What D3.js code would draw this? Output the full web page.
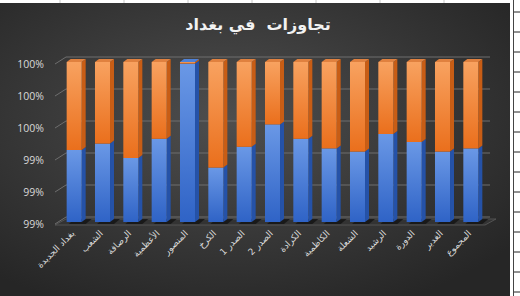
<!DOCTYPE html>
<html>
<head>
<meta charset="utf-8">
<script src="https://cdn.jsdelivr.net/npm/d3@7"></script>
<style>
  html, body { margin: 0; padding: 0; background: #ffffff; }
  #chart { width: 520px; height: 296px; }
</style>
</head>
<body>
<div id="chart"></div>
<script>
// categories (districts) and shares in percent
const districts = ['بغداد الجديدة', 'الشعب', 'الرصافة', 'الأعظمية', 'المنصور', 'الكرخ', 'الصدر 1',
    'الصدر 2', 'الكرادة', 'الكاظمية', 'الشعلة', 'الرشيد', 'الدورة', 'الغدير', 'المجموع'];
const blueShare = [99.45, 99.49, 99.40, 99.52, 99.99, 99.34, 99.47, 99.61, 99.52, 99.46, 99.44, 99.55, 99.50, 99.44, 99.46];
const orangeShare = [0.55, 0.51, 0.60, 0.48, 0.01, 0.66, 0.53, 0.39, 0.48, 0.54, 0.56, 0.45, 0.50, 0.56, 0.54];
const yTicks = [99.0, 99.2, 99.4, 99.6, 99.8, 100.0];
const chartTitle = 'تجاوزات  في بغداد';

function createChart() {
    const width = 520, height = 296;
    const svg = d3.select('#chart')
        .append('svg')
        .attr('width', width)
        .attr('height', height);

    const defs = svg.append('defs');

    const bg = defs.append('radialGradient')
        .attr('id', 'bgGrad')
        .attr('cx', '45%').attr('cy', '40%').attr('r', '70%');
    bg.append('stop').attr('offset', '0%').attr('stop-color', '#4e4e4e');
    bg.append('stop').attr('offset', '100%').attr('stop-color', '#262626');

    function vGrad(id, top, bottom) {
        const g = defs.append('linearGradient')
            .attr('id', id)
            .attr('x1', 0).attr('y1', 0).attr('x2', 0).attr('y2', 1);
        g.append('stop').attr('offset', '0%').attr('stop-color', top);
        g.append('stop').attr('offset', '100%').attr('stop-color', bottom);
    }
    vGrad('blueGrad', '#6a98e6', '#2f63c6');
    vGrad('orangeGrad', '#f8a260', '#ea6f1c');

    // excel sheet strip around chart
    svg.append('rect')
        .attr('x', 0).attr('y', 3)
        .attr('width', 510).attr('height', height - 3)
        .attr('fill', 'url(#bgGrad)');
    [60, 124, 188, 252, 316, 380, 444].forEach(x => {
        svg.append('line')
            .attr('x1', x).attr('x2', x).attr('y1', 0).attr('y2', 3)
            .attr('stroke', '#c8c8c8');
    });
    svg.append('line')
        .attr('x1', 513.5).attr('x2', 513.5).attr('y1', 0).attr('y2', height)
        .attr('stroke', '#444');
    d3.range(12, height, 20).forEach(y => {
        svg.append('line')
            .attr('x1', 514).attr('x2', 520).attr('y1', y).attr('y2', y)
            .attr('stroke', '#222');
    });

    svg.append('text')
        .attr('x', 258)
        .attr('y', 30)
        .attr('text-anchor', 'middle')
        .style('white-space', 'pre')
        .style('fill', '#f2f2f2')
        .style('font-family', 'DejaVu Sans, sans-serif')
        .style('font-size', '16px')
        .style('font-weight', 'bold')
        .text(chartTitle);

    const x = d3.scaleBand()
        .domain(districts)
        .range([60, 485])
        .paddingInner(0.47)
        .paddingOuter(0.235);

    const y = d3.scaleLinear()
        .domain([99, 100])
        .range([222, 62])
        .clamp(true);

    const depthX = 11, depthY = -6;

    // floor
    svg.append('polygon')
        .attr('points', [[55, 225], [485, 225], [485 + depthX, 225 + depthY], [55 + depthX, 225 + depthY]].join(' '))
        .attr('fill', '#333333')
        .attr('stroke', '#5c5c5c')
        .attr('stroke-width', 0.8);

    // back wall gridlines and diagonal tick lines
    const grid = svg.append('g');
    grid.selectAll('.wall-line')
        .data(yTicks)
        .enter()
        .append('line')
        .attr('class', 'wall-line')
        .attr('x1', 55 + depthX)
        .attr('x2', 490)
        .attr('y1', d => y(d) + depthY + 1)
        .attr('y2', d => y(d) + depthY + 1)
        .attr('stroke', '#6e6e6e')
        .attr('stroke-width', 1);
    grid.selectAll('.diag-line')
        .data(yTicks)
        .enter()
        .append('line')
        .attr('class', 'diag-line')
        .attr('x1', 55)
        .attr('x2', 55 + depthX)
        .attr('y1', d => y(d) + 2)
        .attr('y2', d => y(d) + depthY + 1)
        .attr('stroke', '#6e6e6e')
        .attr('stroke-width', 1);

    const yAxis = svg.append('g')
        .attr('transform', 'translate(47,2)')
        .call(d3.axisLeft(y).tickValues(yTicks).tickSize(0).tickFormat(d => Math.round(d) + '%'));
    yAxis.select('.domain').remove();
    yAxis.selectAll('text')
        .style('fill', '#d9d9d9')
        .style('font-family', 'Open Sans, sans-serif')
        .style('font-size', '10.5px');

    const bw = x.bandwidth();
    const dx = 4, dy = -3;

    // bar shadows on the floor
    svg.selectAll('.shadow')
        .data(districts)
        .enter()
        .append('polygon')
        .attr('class', 'shadow')
        .attr('points', d => {
            const x0 = x(d) + 2, x1 = x(d) + bw + dx;
            return [[x0, 224], [x1, 224], [x1 + 6, 219], [x0 + 6, 219]].join(' ');
        })
        .attr('fill', '#151515')
        .attr('opacity', 0.85);

    const stacked = districts.map((d, i) => ({
        name: d,
        segs: [
            { lo: 0, hi: blueShare[i], color: 'blue' },
            { lo: blueShare[i], hi: blueShare[i] + orangeShare[i], color: 'orange' }
        ]
    }));

    const sideColor = { blue: '#2552a8', orange: '#c85d15' };
    const topColor = { blue: '#4f82d8', orange: '#e0813f' };

    const bars = svg.selectAll('.bar')
        .data(stacked)
        .enter()
        .append('g')
        .attr('class', 'bar');

    bars.each(function (d) {
        const g = d3.select(this);
        const x0 = x(d.name);
        d.segs.forEach(s => {
            const yTop = y(s.hi), yBot = y(s.lo);
            if (yBot - yTop <= 0) return;
            // side face
            g.append('polygon')
                .attr('points', [[x0 + bw, yBot], [x0 + bw + dx, yBot + dy], [x0 + bw + dx, yTop + dy], [x0 + bw, yTop]].join(' '))
                .attr('fill', sideColor[s.color]);
            // front face
            g.append('rect')
                .attr('x', x0)
                .attr('y', yTop)
                .attr('width', bw)
                .attr('height', yBot - yTop)
                .attr('fill', `url(#${s.color}Grad)`);
        });
        const last = d.segs[1];
        const yT = y(last.hi);
        g.append('polygon')
            .attr('points', [[x0, yT], [x0 + bw, yT], [x0 + bw + dx, yT + dy], [x0 + dx, yT + dy]].join(' '))
            .attr('fill', topColor[last.hi - last.lo > 0.02 ? 'orange' : 'blue']);
    });

    // category labels, rotated
    svg.selectAll('.cat-label')
        .data(districts)
        .enter()
        .append('text')
        .attr('class', 'cat-label')
        .attr('transform', d => `translate(${x(d) + bw / 2 + 1},234) rotate(-45)`)
        .attr('text-anchor', 'end')
        .style('fill', '#d9d9d9')
        .style('font-family', 'DejaVu Sans, sans-serif')
        .style('font-size', '9px')
        .text(d => d);
}

createChart();
</script>
</body>
</html>
